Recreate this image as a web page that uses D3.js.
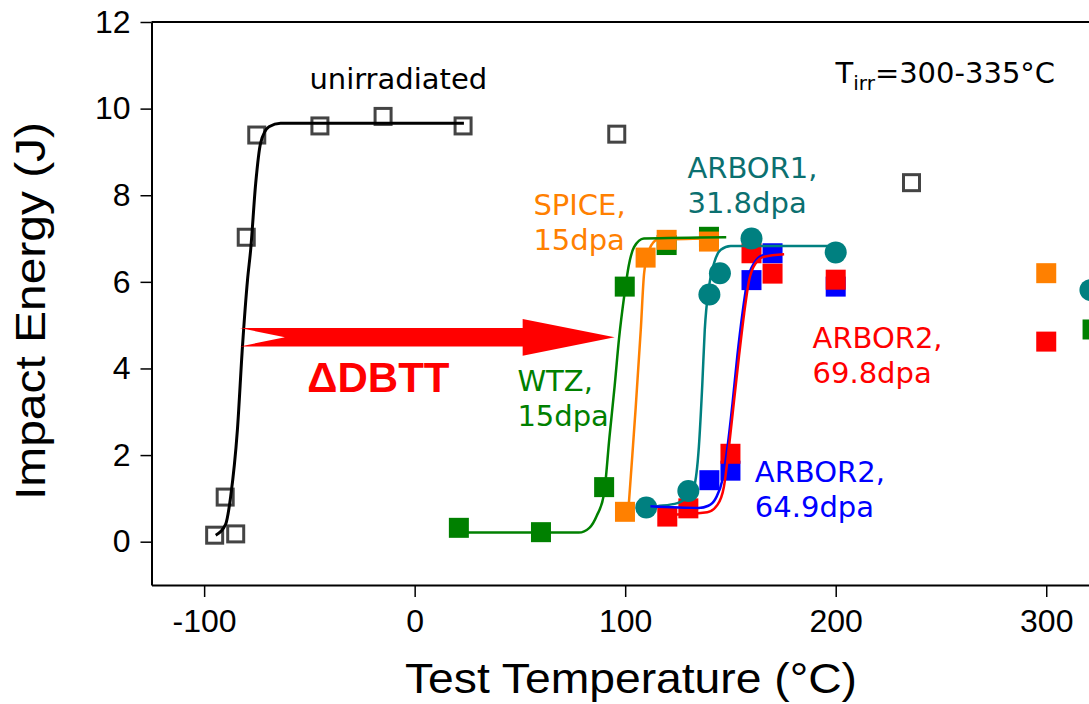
<!DOCTYPE html>
<html>
<head>
<meta charset="utf-8">
<script src="https://cdn.jsdelivr.net/npm/d3@7"></script>
<style>
    body { margin: 0; background: #fff; }
    svg { display: block; }
</style>
</head>
<body>
<div id="viz"></div>
<script>
// impact energy vs test temperature
// open squares = unirradiated, filled marks = irradiated heats, lines = fitted curves

const xTicks = [-100, 0, 100, 200, 300];
const yTicks = [0, 2, 4, 6, 8, 10, 12];

// measured points, [test temperature (°C), impact energy (J)]
const unirradiated = [[-95, 0.15], [-85, 0.18], [-90, 1.03], [-80, 7.03], [-75, 9.39],
    [-45, 9.6], [-15, 9.82], [23, 9.6], [96, 9.41], [236, 8.29]];
const wtz15 = [[21, 0.32], [60, 0.22], [90, 1.26], [99.8, 5.89], [119.7, 6.85], [139.8, 7.04], [322, 4.9]];
const spice15 = [[99.9, 0.69], [109.7, 6.56], [119.7, 6.97], [139.8, 6.93], [300, 6.2]];
const arbor2_649 = [[140, 1.42], [150, 1.64], [160, 6.04], [170, 6.66], [200, 5.89]];
const arbor2_698 = [[120, 0.58], [130, 0.77], [150, 2.03], [160, 6.66], [170, 6.19], [200, 6.05], [300, 4.62]];
const arbor1_318 = [[110, 0.79], [130, 1.17], [140, 5.71], [145, 6.2], [160, 7.0], [200, 6.68], [321, 5.81]];

// fitted curves
const fitUnirr = [[-94.5, 0.15], [-89.8, 0.4], [-87.4, 1.04], [-84.2, 2.58], [-81.8, 4.5], [-79.4, 6.04],
    [-77.9, 6.74], [-75.5, 8.28], [-73.2, 9.2], [-69.2, 9.58], [-63.7, 9.66], [23.4, 9.66]];
const fitWtz = [[20, 0.21], [78, 0.21], [83, 0.32], [86.5, 0.6], [90, 1.12], [92.5, 2.4], [95, 3.6],
    [97.1, 4.7], [99.5, 5.66], [101.8, 6.4], [104.2, 6.8], [108.9, 7.0], [148, 7.03]];
const fitSpice = [[101.5, 0.72], [103.4, 2.0], [105, 3.1], [107.4, 4.89], [109, 6.2], [111.4, 6.74],
    [115.3, 6.97], [140, 7.0]];
const fitArbor1 = [[110, 0.79], [115.3, 0.82], [124.8, 0.89], [129.5, 1.04], [132.7, 1.27], [135, 2.19],
    [136.6, 3.6], [137.8, 4.89], [139.8, 5.89], [142.2, 6.43], [145.4, 6.74], [150.1, 6.83], [200, 6.83]];
const fitArbor2_649 = [[112, 0.82], [135, 0.78], [139.5, 0.83], [143, 1.0], [146.2, 1.43], [148.6, 2.19],
    [151, 3.2], [153.3, 4.3], [155.7, 5.27], [158.1, 6.04], [161.2, 6.43], [166, 6.62], [174.6, 6.64]];
const fitArbor2_698 = [[122, 0.62], [139, 0.68], [143.8, 0.85], [146.9, 1.27], [149.3, 2.19], [151.7, 3.25],
    [154.1, 4.3], [156.5, 5.27], [158.9, 6.04], [162, 6.43], [166, 6.58], [175.5, 6.64]];

// shift in transition temperature arrow
const dbttFrom = [-83, 4.72];
const dbttTo = [95, 4.72];

const colors = {
    unirr: '#444444',
    wtz: '#008000',
    spice: '#ff8000',
    arbor1: '#008080',
    arbor2a: '#0000ff',
    arbor2b: '#ff0000'
};

const width = 1089;
const height = 704;

const svg = d3.select('#viz').append('svg')
    .attr('width', width)
    .attr('height', height);

const x = d3.scaleLinear().domain([-125, 350]).range([151.5, 1151.5]);
const y = d3.scaleLinear().domain([-1, 12]).range([585, 22]);

// axes
const xAxis = svg.append('g')
    .attr('transform', `translate(0, ${y.range()[0]})`)
    .call(d3.axisBottom(x).tickValues(xTicks).tickFormat(d => String(d))
        .tickSize(12).tickPadding(12).tickSizeOuter(0));

const yAxis = svg.append('g')
    .attr('transform', `translate(${x.range()[0]}, 0)`)
    .call(d3.axisLeft(y).tickValues(yTicks).tickFormat(d => String(d))
        .tickSize(11).tickPadding(10).tickSizeOuter(0));

[xAxis, yAxis].forEach(g => {
    g.select('.domain').attr('stroke', '#000').attr('stroke-width', 2);
    g.selectAll('.tick line').attr('stroke', '#000').attr('stroke-width', 1.5);
    g.selectAll('.tick text')
        .attr('fill', '#000')
        .style('font-family', '"Liberation Sans", Arial, sans-serif')
        .style('font-size', '32px');
});

// top frame line
svg.append('line')
    .attr('x1', x.range()[0]).attr('x2', x.range()[1])
    .attr('y1', y.range()[1]).attr('y2', y.range()[1])
    .attr('stroke', '#000').attr('stroke-width', 2);

svg.append('text')
    .attr('x', 631).attr('y', 693)
    .attr('text-anchor', 'middle')
    .attr('textLength', 452).attr('lengthAdjust', 'spacingAndGlyphs')
    .style('font-family', '"Liberation Sans", Arial, sans-serif')
    .style('font-size', '42px')
    .text('Test Temperature (°C)');

svg.append('text')
    .attr('transform', 'translate(45, 311) rotate(-90)')
    .attr('text-anchor', 'middle')
    .attr('textLength', 378).attr('lengthAdjust', 'spacingAndGlyphs')
    .style('font-family', '"Liberation Sans", Arial, sans-serif')
    .style('font-size', '42px')
    .text('Impact Energy (J)');

// markers
const marks = svg.append('g');

function squares(data, color, filled) {
    const s = filled ? 20 : 16;
    marks.append('g').selectAll('rect')
        .data(data)
        .join('rect')
        .attr('x', d => x(d[0]) - s / 2)
        .attr('y', d => y(d[1]) - s / 2)
        .attr('width', s)
        .attr('height', s)
        .attr('fill', filled ? color : 'none')
        .attr('stroke', filled ? 'none' : color)
        .attr('stroke-width', 3);
}

squares(unirradiated, colors.unirr, false);
squares(wtz15, colors.wtz, true);
squares(spice15, colors.spice, true);
squares(arbor2_649, colors.arbor2a, true);
squares(arbor2_698, colors.arbor2b, true);

marks.append('g').selectAll('circle')
    .data(arbor1_318)
    .join('circle')
    .attr('cx', d => x(d[0]))
    .attr('cy', d => y(d[1]))
    .attr('r', 11)
    .attr('fill', colors.arbor1);

// fitted curves
const line = d3.line()
    .x(d => x(d[0]))
    .y(d => y(d[1]))
    .curve(d3.curveMonotoneX);

[
    [fitUnirr, '#000', 3],
    [fitSpice, colors.spice, 2.5],
    [fitWtz, colors.wtz, 2.5],
    [fitArbor1, colors.arbor1, 2.5],
    [fitArbor2_649, colors.arbor2a, 2.5],
    [fitArbor2_698, colors.arbor2b, 2.5]
].forEach(([data, color, w]) => {
    svg.append('path')
        .datum(data)
        .attr('fill', 'none')
        .attr('stroke', color)
        .attr('stroke-width', w)
        .attr('d', line);
});

// ΔDBTT arrow with notched tail
const ax0 = x(dbttFrom[0]), ax1 = x(dbttTo[0]), ay = y(dbttFrom[1]);
const shaft = 9.2, head = 18.4, headLen = 92, notch = 45;
svg.append('path')
    .attr('d', `M${ax0},${ay - shaft} L${ax1 - headLen},${ay - shaft} L${ax1 - headLen},${ay - head}
        L${ax1},${ay} L${ax1 - headLen},${ay + head} L${ax1 - headLen},${ay + shaft}
        L${ax0},${ay + shaft} L${ax0 + notch},${ay} Z`)
    .attr('fill', '#ff0000');

svg.append('text')
    .attr('x', x(-51)).attr('y', y(3.46))
    .attr('fill', '#ff0000')
    .style('font-family', '"Liberation Sans", Arial, sans-serif')
    .style('font-size', '42px')
    .style('font-weight', 'bold')
    .text('ΔDBTT');

// series labels
const labelFont = '"DejaVu Sans", Verdana, sans-serif';

function label(tx, ty, lines, color) {
    const t = svg.append('text')
        .attr('x', x(tx)).attr('y', y(ty))
        .attr('fill', color)
        .style('font-family', labelFont)
        .style('font-size', '29px');
    lines.forEach((s, i) => {
        t.append('tspan')
            .attr('x', x(tx))
            .attr('dy', i === 0 ? 0 : 35)
            .text(s);
    });
}

label(-50, 10.45, ['unirradiated'], '#000');
label(56.4, 7.54, ['SPICE,', '15dpa'], colors.spice);
label(129.6, 8.39, ['ARBOR1,', '31.8dpa'], '#0b7070');
label(48.8, 3.48, ['WTZ,', '15dpa'], colors.wtz);
label(189, 4.47, ['ARBOR2,', '69.8dpa'], colors.arbor2b);
label(161.6, 1.38, ['ARBOR2,', '64.9dpa'], colors.arbor2a);

const tirr = svg.append('text')
    .attr('x', x(199.9)).attr('y', y(10.59))
    .attr('fill', '#000')
    .style('font-family', labelFont)
    .style('font-size', '29px');
tirr.append('tspan').text('T');
tirr.append('tspan').attr('dy', 7).style('font-size', '20px').text('irr');
tirr.append('tspan').attr('dy', -7).text('=300-335°C');
</script>
</body>
</html>
